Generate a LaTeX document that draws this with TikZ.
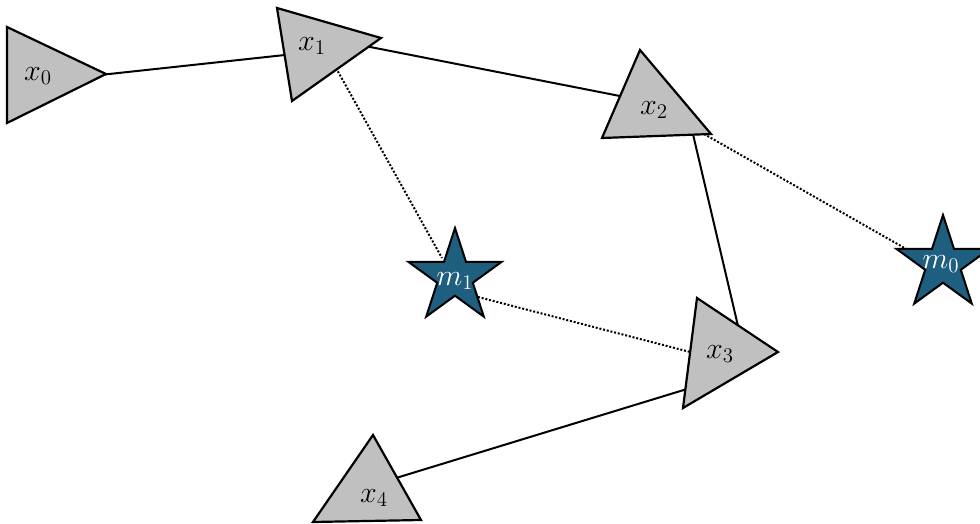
\documentclass[tikz,border=0pt]{standalone}
\usepackage{graphicx}
\usetikzlibrary{shapes.geometric}
\definecolor{trigray}{RGB}{192,192,192}
\definecolor{starblue}{RGB}{30,94,127}
\newcommand{\biglab}[1]{\scalebox{1.45}{\huge$#1$}}
\begin{document}
\begin{tikzpicture}[x=1pt,y=-1pt,
  tri/.style={draw=black, fill=trigray, line width=2.2pt, line join=miter},
  link/.style={draw=black, line width=2pt},
  dotlink/.style={draw=black, line width=2pt, dash pattern=on 2pt off 1.8pt},
  starsty/.style={star, star points=5, star point ratio=2.618, minimum size=98pt, inner sep=0pt, draw=black, line width=2pt, fill=starblue},
  lab/.style={inner sep=0pt},
  wlab/.style={lab, text=white}]
\useasboundingbox (0,0) rectangle (980,524);
\clip (0,0) rectangle (980,524);
% connector end points
\coordinate (a0) at (100,75);
\coordinate (a1) at (285,55);
\coordinate (b1) at (360,45);
\coordinate (b2) at (625,97);
\coordinate (c1) at (336,68);
\coordinate (c2) at (442,258);
\coordinate (d2) at (704,134);
\coordinate (d0) at (908,250);
\coordinate (e2) at (692,130);
\coordinate (e3) at (738,326);
\coordinate (f1) at (478,297);
\coordinate (f3) at (694,353);
\coordinate (g4) at (396,478);
\coordinate (g3) at (687,389);
% connectors
\draw[link] (a0) -- (a1);
\draw[link] (b1) -- (b2);
\draw[dotlink] (c1) -- (c2);
\draw[dotlink] (d2) -- (d0);
\draw[link] (e2) -- (e3);
\draw[dotlink] (f1) -- (f3);
\draw[link] (g4) -- (g3);
% triangles
\draw[tri] (7,27) -- (7,123) -- (106,74) -- cycle;
\draw[tri] (277,8) -- (381,38) -- (292,101) -- cycle;
\draw[tri] (640,50) -- (602,138) -- (711,134) -- cycle;
\draw[tri] (697,298) -- (778,352) -- (683,408) -- cycle;
\draw[tri] (373,435) -- (313,522) -- (421,520) -- cycle;
% stars
\node[starsty] (s1) at (455,277) {};
\node[starsty] (s0) at (943,264) {};
% labels
\node[lab] (x0) at (38,76) {\biglab{x_0}};
\node[lab] (x1) at (312,46) {\biglab{x_1}};
\node[lab] (x2) at (654,110) {\biglab{x_2}};
\node[lab] (x3) at (720,354) {\biglab{x_3}};
\node[lab] (x4) at (374,498) {\biglab{x_4}};
\node[wlab] (m1) at (455,281) {\biglab{m_1}};
\node[wlab] (m0) at (941,264) {\biglab{m_0}};
\end{tikzpicture}
\end{document}
